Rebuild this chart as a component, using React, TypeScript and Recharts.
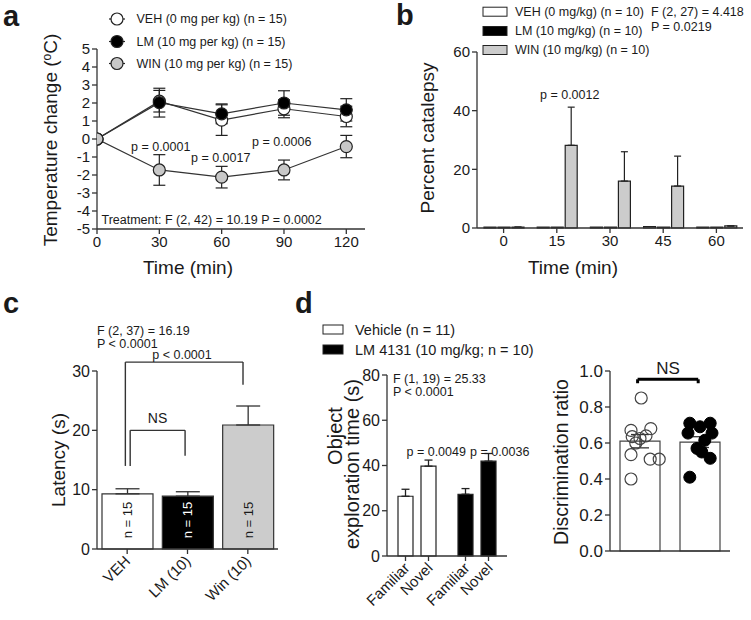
import React from "react";
import {
  LineChart, Line, BarChart, Bar, ComposedChart, Scatter, XAxis, YAxis,
  ErrorBar, ReferenceLine, LabelList, Cell,
} from "recharts";

const FONT = "Arial, 'Liberation Sans', Helvetica, sans-serif";
const INK = "#1a1a1a";
const AX = "#333";
const GREY = "#cccccc";

// panel a: body temperature
const tempTimes = [0, 30, 60, 90, 120];
const vehTemp = [0, 2.1, 1.05, 1.68, 1.25];
const vehTempErr = [0, 0.6, 0.85, 0.5, 0.57];
const lmTemp = [0, 2.02, 1.4, 2.0, 1.62];
const lmTempErr = [0, 0.8, 0.55, 0.68, 0.62];
const winTemp = [0, -1.72, -2.12, -1.72, -0.42];
const winTempErr = [0, 0.85, 0.6, 0.55, 0.62];
const tempTicks = [-5, -4, -3, -2, -1, 0, 1, 2, 3, 4, 5];

// panel b: catalepsy
const cataTimes = ["0", "15", "30", "45", "60"];
const vehCata = [0.3, 0.3, 0.3, 0.5, 0.3];
const lmCata = [0.3, 0.3, 0.3, 0.3, 0.3];
const winCata = [0.3, 28.2, 16, 14.3, 0.7];
const winCataErr = [0, 13, 10, 10.2, 0];

// panel c: latency
const latGroups = ["VEH", "LM (10)", "Win (10)"];
const latency = [9.3, 8.9, 20.9];
const latencyErr = [0.85, 0.75, 3.2];
const latencyN = [15, 15, 15];
const latColors = ["#ffffff", "#000000", GREY];
// comparison brackets, x in group units (0..3): [left x, right x, top, left foot, right foot]
const bracketNS = [0.55, 1.46, 20, 14, 15.7];
const bracketWin = [0.47, 2.42, 31.5, 14, 27.7];

// panel d: novel object recognition
const objGroups = ["Vehicle", "LM 4131"];
const objLabels = ["Familiar", "Novel"];
const familiarTime = [26.4, 27.3];
const familiarErr = [3.1, 2.5];
const novelTime = [39.7, 41.9];
const novelErr = [2.7, 3.4];
const objColors = ["#ffffff", "#000000"];

const drMean = [0.61, 0.605];
const drErr = [0.037, 0.03];
// individual animals: x = jittered position in group units (0..2), y = ratio
const vehDrX = [0.52, 0.35, 0.68, 0.6, 0.5, 0.37, 0.35, 0.67, 0.82, 0.35, 0.43];
const vehDrY = [0.85, 0.67, 0.68, 0.64, 0.625, 0.635, 0.535, 0.51, 0.51, 0.4, 0.6];
const lmDrX = [1.33, 1.67, 1.5, 1.3, 1.7, 1.58, 1.45, 1.53, 1.67, 1.33];
const lmDrY = [0.71, 0.71, 0.69, 0.655, 0.655, 0.615, 0.57, 0.55, 0.515, 0.41];
const bracketDr = [0.46, 1.47, 0.954, 0.932, 0.932];

const tempData = tempTimes.map((t, i) => ({
  time: t,
  veh: vehTemp[i], vehErr: vehTempErr[i],
  lm: lmTemp[i], lmErr: lmTempErr[i],
  win: winTemp[i], winErr: winTempErr[i],
}));
const cataData = cataTimes.map((t, i) => ({
  time: t, veh: vehCata[i], lm: lmCata[i], win: winCata[i], winErr: [0, winCataErr[i]],
}));
const latData = latGroups.map((g, i) => ({ group: g, value: latency[i], err: [0, latencyErr[i]], n: latencyN[i] }));
const objData = objGroups.map((g, i) => ({
  group: g,
  familiar: familiarTime[i], familiarErr: [0, familiarErr[i]],
  novel: novelTime[i], novelErr: [0, novelErr[i]],
}));
const drData = objGroups.map((g, i) => ({ group: g, value: drMean[i], err: drErr[i] }));
const vehDots = vehDrX.map((x, i) => ({ x, y: vehDrY[i] }));
const lmDots = lmDrX.map((x, i) => ({ x, y: lmDrY[i] }));

const bracketSegs = (b: number[]) => [
  [[b[0], b[3]], [b[0], b[2]]],
  [[b[0], b[2]], [b[1], b[2]]],
  [[b[1], b[2]], [b[1], b[4]]],
];

const axisLine = { stroke: AX, strokeWidth: 1.3 };
const tickLine = { stroke: AX, strokeWidth: 1.3 };
const tick = (size: number) => ({ fontSize: size, fill: INK, fontFamily: FONT });

const dotOf = (fill: string) => (p: any) => (
  <circle key={`${fill}-${p.index}`} cx={p.cx} cy={p.cy} r={6} fill={fill} stroke="#222" strokeWidth={1.2} />
);

function SlantTick({ x, y, payload }: any) {
  const ax = x + 4, ay = y + 6;
  return (
    <text x={ax} y={ay} transform={`rotate(-45, ${ax}, ${ay})`} textAnchor="end"
      fontSize={15} fill={INK} fontFamily={FONT}>{payload.value}</text>
  );
}

const OBJ_BAR = 15;
const OBJ_GAP = 8;
function PairTick({ x, y }: any) {
  const half = (OBJ_BAR + OBJ_GAP) / 2;
  return (
    <g>
      {objLabels.map((lab, k) => {
        const tx = x + (k === 0 ? -half : half);
        const ax = tx + 5, ay = y + 5;
        return (
          <g key={lab}>
            <line x1={tx} x2={tx} y1={y - 8} y2={y - 3} stroke={AX} strokeWidth={1.3} />
            <text x={ax} y={ay} transform={`rotate(-45, ${ax}, ${ay})`} textAnchor="end"
              fontSize={15} fill={INK} fontFamily={FONT}>{lab}</text>
          </g>
        );
      })}
    </g>
  );
}

const nLabel = (p: any) => {
  const cx = p.x + p.width / 2;
  const cy = p.y + p.height - 29;
  return (
    <text key={`n-${p.index}`} x={cx} y={cy} transform={`rotate(-90, ${cx}, ${cy})`} textAnchor="middle"
      dy="0.35em" fontSize={13} fontFamily={FONT} fill={p.index === 1 ? "#fff" : INK}>
      n = {p.value}
    </text>
  );
};

function T({ x, y, children, size = 13, anchor = "start", weight = "normal", rotate = 0 }: any) {
  return (
    <text x={x} y={y} dy="0.35em" fontSize={size} fontFamily={FONT} fill={INK} textAnchor={anchor}
      fontWeight={weight} transform={rotate ? `rotate(${rotate}, ${x}, ${y})` : undefined}>
      {children}
    </text>
  );
}

function Overlay() {
  const legA = [
    { label: "VEH (0 mg per kg) (n = 15)", fill: "#fff", y: 19 },
    { label: "LM (10 mg per kg) (n = 15)", fill: "#000", y: 41.5 },
    { label: "WIN (10 mg per kg) (n = 15)", fill: "#c8c8c8", y: 63.5 },
  ];
  const legB = [
    { label: "VEH (0 mg/kg) (n = 10)", fill: "#fff", y: 11.7 },
    { label: "LM (10 mg/kg) (n = 10)", fill: "#000", y: 31 },
    { label: "WIN (10 mg/kg) (n = 10)", fill: GREY, y: 50 },
  ];
  const legD = [
    { label: "Vehicle (n = 11)", fill: "#fff", y: 329.5 },
    { label: "LM 4131 (10 mg/kg; n = 10)", fill: "#000", y: 349.5 },
  ];
  return (
    <svg width={751} height={620} style={{ position: "absolute", left: 0, top: 0, pointerEvents: "none" }}>
      <T x={3} y={16} size={29} weight="bold">a</T>
      <T x={396} y={15} size={29} weight="bold">b</T>
      <T x={3} y={303} size={29} weight="bold">c</T>
      <T x={295} y={303} size={29} weight="bold">d</T>

      {legA.map((l) => (
        <g key={l.label}>
          <line x1={109} x2={125} y1={l.y} y2={l.y} stroke="#222" strokeWidth={1.2} />
          <circle cx={117} cy={l.y} r={6} fill={l.fill} stroke="#222" strokeWidth={1.2} />
          <T x={136.5} y={l.y} size={12.5}>{l.label}</T>
        </g>
      ))}
      <text x={50} y={140} dy="0.35em" fontSize={19} fontFamily={FONT} fill={INK} textAnchor="middle"
        transform="rotate(-90, 50, 140)">
        Temperature change (<tspan dy={-6} fontSize={12}>o</tspan><tspan dy={6}>C)</tspan>
      </text>
      <T x={188} y={267} size={19} anchor="middle">Time (min)</T>
      <T x={131} y={147} size={12.5}>p = 0.0001</T>
      <T x={191} y={158} size={12.5}>p = 0.0017</T>
      <T x={252} y={142} size={12.5}>p = 0.0006</T>
      <T x={101.5} y={220} size={12.5}>Treatment: F (2, 42) = 10.19 P = 0.0002</T>

      {legB.map((l) => (
        <g key={l.label}>
          <rect x={483} y={l.y - 4.5} width={24} height={9} fill={l.fill} stroke="#222" strokeWidth={1} />
          <T x={515} y={l.y} size={12.5}>{l.label}</T>
        </g>
      ))}
      <T x={651} y={11.7} size={12.5}>F (2, 27) = 4.418</T>
      <T x={651} y={27} size={12.5}>P = 0.0219</T>
      <T x={427} y={138} size={19} anchor="middle" rotate={-90}>Percent catalepsy</T>
      <T x={573} y={267} size={19} anchor="middle">Time (min)</T>
      <T x={540} y={95} size={12.5}>p = 0.0012</T>

      <T x={97} y={331} size={12.5}>F (2, 37) = 16.19</T>
      <T x={97} y={343.5} size={12.5}>P &lt; 0.0001</T>
      <T x={182} y={355} size={12.5} anchor="middle">p &lt; 0.0001</T>
      <T x={157.5} y={418} size={14} anchor="middle">NS</T>
      <T x={58} y={460} size={19} anchor="middle" rotate={-90}>Latency (s)</T>

      {legD.map((l) => (
        <g key={l.label}>
          <rect x={323} y={l.y - 4.5} width={20} height={9} fill={l.fill} stroke="#222" strokeWidth={1} />
          <T x={355} y={l.y} size={14.5}>{l.label}</T>
        </g>
      ))}
      <T x={393} y={378.5} size={12.5}>F (1, 19) = 25.33</T>
      <T x={393} y={391.5} size={12.5}>P &lt; 0.0001</T>
      <T x={406.5} y={452} size={12.5}>p = 0.0049</T>
      <T x={470} y={452} size={12.5}>p = 0.0036</T>
      <T x={335} y={436} size={20} anchor="middle" rotate={-90}>Object</T>
      <T x={352} y={464} size={20} anchor="middle" rotate={-90}>exploration time (s)</T>

      <T x={668} y={368} size={17} anchor="middle">NS</T>
      <T x={561} y={462} size={19.5} anchor="middle" rotate={-90}>Discrimination ratio</T>
    </svg>
  );
}

export default function App() {
  return (
    <div style={{ position: "absolute", left: 0, top: 0, width: 751, height: 620, background: "#fff", fontFamily: FONT }}>
      {/* a */}
      <div style={{ position: "absolute", left: 0, top: 0 }}>
        <LineChart width={380} height={290} data={tempData} margin={{ top: 49, right: 15, bottom: 0, left: 0 }}>
          <XAxis dataKey="time" type="number" domain={[0, 129]} ticks={tempTimes} allowDataOverflow
            height={61} axisLine={axisLine} tickLine={tickLine} tickSize={5} tick={tick(15)} />
          <YAxis type="number" domain={[-5, 5]} ticks={tempTicks} width={97} interval={0}
            axisLine={axisLine} tickLine={tickLine} tickSize={5} tick={tick(15)} />
          <Line dataKey="veh" stroke={AX} strokeWidth={1.2} isAnimationActive={false} dot={dotOf("#fff")}>
            <ErrorBar dataKey="vehErr" width={6} stroke="#222" strokeWidth={1.2} direction="y" />
          </Line>
          <Line dataKey="lm" stroke={AX} strokeWidth={1.2} isAnimationActive={false} dot={dotOf("#000")}>
            <ErrorBar dataKey="lmErr" width={6} stroke="#222" strokeWidth={1.2} direction="y" />
          </Line>
          <Line dataKey="win" stroke={AX} strokeWidth={1.2} isAnimationActive={false} dot={dotOf("#c8c8c8")}>
            <ErrorBar dataKey="winErr" width={6} stroke="#222" strokeWidth={1.2} direction="y" />
          </Line>
        </LineChart>
      </div>

      {/* b */}
      <div style={{ position: "absolute", left: 380, top: 0 }}>
        <BarChart width={371} height={290} data={cataData} barSize={12} barGap={2}
          margin={{ top: 52, right: 8, bottom: 0, left: 0 }}>
          <XAxis dataKey="time" height={62} axisLine={axisLine} tickLine={tickLine} tickSize={5} tick={tick(15)} />
          <YAxis type="number" domain={[0, 60]} ticks={[0, 20, 40, 60]} width={97}
            axisLine={axisLine} tickLine={tickLine} tickSize={5} tick={tick(15)} />
          <Bar dataKey="veh" fill="#fff" stroke="#222" strokeWidth={1.2} isAnimationActive={false} />
          <Bar dataKey="lm" fill="#000" stroke="#222" strokeWidth={1.2} isAnimationActive={false} />
          <Bar dataKey="win" fill={GREY} stroke="#222" strokeWidth={1.2} isAnimationActive={false}>
            <ErrorBar dataKey="winErr" width={3.5} stroke="#222" strokeWidth={1.2} direction="y" />
          </Bar>
        </BarChart>
      </div>

      {/* c */}
      <div style={{ position: "absolute", left: 0, top: 290 }}>
        <ComposedChart width={300} height={330} data={latData} barSize={51}
          margin={{ top: 81, right: 22, bottom: 0, left: 0 }}>
          <XAxis dataKey="group" height={71} axisLine={axisLine} tickLine={tickLine} tickSize={5}
            tick={<SlantTick />} interval={0} />
          <XAxis xAxisId="ann" dataKey="pos" type="number" domain={[0, 3]} allowDataOverflow hide />
          <YAxis type="number" domain={[0, 30]} ticks={[0, 10, 20, 30]} width={97}
            axisLine={axisLine} tickLine={tickLine} tickSize={5} tick={tick(16)} />
          <Bar dataKey="value" stroke="#333" strokeWidth={1.2} isAnimationActive={false}>
            {latData.map((d, i) => <Cell key={d.group} fill={latColors[i]} />)}
            <ErrorBar dataKey="err" width={12} stroke="#333" strokeWidth={1.3} direction="y" />
            <LabelList dataKey="n" content={nLabel} />
          </Bar>
          {[...bracketSegs(bracketNS), ...bracketSegs(bracketWin)].map((s, i) => (
            <ReferenceLine key={i} xAxisId="ann" ifOverflow="visible" stroke="#333" strokeWidth={1.4}
              segment={[{ x: s[0][0], y: s[0][1] }, { x: s[1][0], y: s[1][1] }]} />
          ))}
        </ComposedChart>
      </div>

      {/* d left */}
      <div style={{ position: "absolute", left: 300, top: 290 }}>
        <BarChart width={215} height={330} data={objData} barSize={OBJ_BAR} barGap={OBJ_GAP}
          margin={{ top: 85, right: 8, bottom: 0, left: 0 }}>
          <XAxis dataKey="group" height={64} axisLine={axisLine} tickLine={false} tickSize={6} tickMargin={2}
            tick={<PairTick />} interval={0} />
          <YAxis type="number" domain={[0, 80]} ticks={[0, 20, 40, 60, 80]} width={87}
            axisLine={axisLine} tickLine={tickLine} tickSize={5} tick={tick(16)} />
          <Bar dataKey="familiar" stroke="#222" strokeWidth={1.2} isAnimationActive={false}>
            {objData.map((d, i) => <Cell key={d.group} fill={objColors[i]} />)}
            <ErrorBar dataKey="familiarErr" width={4} stroke="#222" strokeWidth={1.3} direction="y" />
          </Bar>
          <Bar dataKey="novel" stroke="#222" strokeWidth={1.2} isAnimationActive={false}>
            {objData.map((d, i) => <Cell key={d.group} fill={objColors[i]} />)}
            <ErrorBar dataKey="novelErr" width={4} stroke="#222" strokeWidth={1.3} direction="y" />
          </Bar>
        </BarChart>
      </div>

      {/* d right */}
      <div style={{ position: "absolute", left: 515, top: 290 }}>
        <ComposedChart width={236} height={330} data={drData} barSize={40}
          margin={{ top: 81, right: 21, bottom: 0, left: 0 }}>
          <XAxis dataKey="group" height={69} axisLine={axisLine} tickLine={false} tick={false} />
          <XAxis xAxisId="num" dataKey="x" type="number" domain={[0, 2]} allowDataOverflow hide />
          <YAxis type="number" domain={[0, 1]} ticks={[0, 0.2, 0.4, 0.6, 0.8, 1]} width={95}
            tickFormatter={(v: number) => v.toFixed(1)}
            axisLine={axisLine} tickLine={tickLine} tickSize={5} tick={tick(17)} />
          <Bar dataKey="value" fill="#fff" stroke="#444" strokeWidth={1.2} isAnimationActive={false}>
            <ErrorBar dataKey="err" width={9} stroke="#333" strokeWidth={1.3} direction="y" />
          </Bar>
          <Scatter xAxisId="num" data={vehDots} dataKey="y" isAnimationActive={false}
            shape={(p: any) => <circle cx={p.cx} cy={p.cy} r={6} fill="none" stroke="#444" strokeWidth={1.2} />} />
          <Scatter xAxisId="num" data={lmDots} dataKey="y" isAnimationActive={false}
            shape={(p: any) => <circle cx={p.cx} cy={p.cy} r={6} fill="#000" stroke="#000" strokeWidth={1} />} />
          {bracketSegs(bracketDr).map((s, i) => (
            <ReferenceLine key={i} xAxisId="num" ifOverflow="visible" stroke="#000" strokeWidth={3}
              segment={[{ x: s[0][0], y: s[0][1] }, { x: s[1][0], y: s[1][1] }]} />
          ))}
        </ComposedChart>
      </div>

      <Overlay />
    </div>
  );
}
